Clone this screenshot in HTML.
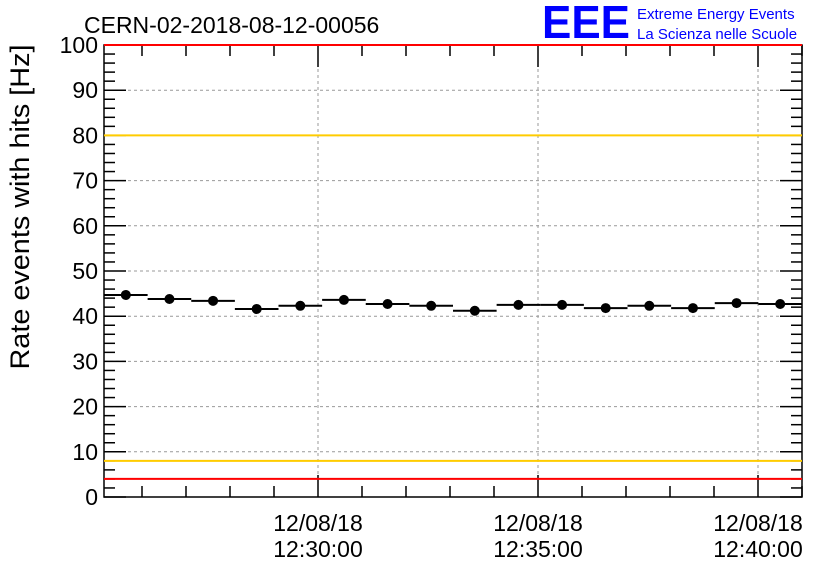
<!DOCTYPE html>
<html><head><meta charset="utf-8"><style>
body{margin:0;background:#fff;}
svg{display:block;font-family:"Liberation Sans",sans-serif;}
</style></head><body>
<svg id="c" width="836" height="572">
<rect x="0" y="0" width="836" height="572" fill="#fff"/>
<text x="84" y="33" font-size="23" fill="#000">CERN-02-2018-08-12-00056</text>
<text x="542" y="38" font-size="46" font-weight="bold" fill="#00f" textLength="88" lengthAdjust="spacingAndGlyphs">EEE</text>
<text x="637" y="19" font-size="15" fill="#00f">Extreme Energy Events</text>
<text x="637" y="39" font-size="15" fill="#00f">La Scienza nelle Scuole</text>
<text transform="translate(29,207) rotate(-90)" text-anchor="middle" font-size="27" fill="#000" textLength="325" lengthAdjust="spacingAndGlyphs">Rate events with hits [Hz]</text>
<g id="grid"></g><g id="axes"></g><g id="marks"></g>
</svg>
<script>
const values=[44.7,43.8,43.4,41.6,42.3,43.6,42.7,42.3,41.2,42.5,42.5,41.8,42.3,41.8,42.9,42.7];
const yTicks=[0,10,20,30,40,50,60,70,80,90,100];
const xTickMinutes=[5,10,15];
const xTickDates=["12/08/18","12/08/18","12/08/18"];
const xTickTimes=["12:30:00","12:35:00","12:40:00"];
const refLines=[{v:80,c:"#ffcc00"},{v:8,c:"#ffcc00"},{v:4,c:"#ff0000"},{v:100,c:"#ff0000"}];
const X0=104,X1=802,Y0=497,Y1=45,NS="http://www.w3.org/2000/svg";
const tStart=5-214/44, tEnd=tStart+(X1-X0)/44;
const xs=m=>X0+(m-tStart)/(tEnd-tStart)*(X1-X0);
const ys=v=>Y0-(v/100)*(Y0-Y1);
function mk(t,a,p){const e=document.createElementNS(NS,t);for(const k in a)e.setAttribute(k,a[k]);p.appendChild(e);return e;}
const G=document.getElementById('grid'),A=document.getElementById('axes'),M=document.getElementById('marks');
yTicks.forEach(v=>{
 if(v>0&&v<100){const l=mk('line',{x1:X0,x2:X1,y1:ys(v),y2:ys(v),stroke:'#999','stroke-dasharray':'3,3'},G);
 
 }
 const t=mk('text',{x:X0-6,y:ys(v)+8,'text-anchor':'end','font-size':23},A);t.textContent=v;
 
 
 mk('line',{x1:X0,x2:X0+22,y1:ys(v),y2:ys(v),stroke:'#000','stroke-width':1.5},A);
 mk('line',{x1:X1,x2:X1-22,y1:ys(v),y2:ys(v),stroke:'#000','stroke-width':1.5},A);
 if(v<100)for(let k=1;k<5;k++){const yy=ys(v+k*2);mk('line',{x1:X0,x2:X0+11,y1:yy,y2:yy,stroke:'#000','stroke-width':1.5},A);mk('line',{x1:X1,x2:X1-11,y1:yy,y2:yy,stroke:'#000','stroke-width':1.5},A);}
});
for(let m=Math.ceil(tStart);m<=tEnd;m++){const x=xs(m),maj=xTickMinutes.includes(m);
 mk('line',{x1:x,x2:x,y1:Y0,y2:Y0-(maj?22:11),stroke:'#000','stroke-width':1.5},A);
 mk('line',{x1:x,x2:x,y1:Y1,y2:Y1+(maj?22:11),stroke:'#000','stroke-width':1.5},A);}
xTickMinutes.forEach((m,i)=>{const x=xs(m);
 const l=mk('line',{x1:x,x2:x,y1:Y1,y2:Y0,stroke:'#999','stroke-dasharray':'3,3'},G);
 
 
 const t1=mk('text',{x:x,y:531,'text-anchor':'middle','font-size':23},A);t1.textContent=xTickDates[i];
 
 
 const t2=mk('text',{x:x,y:557,'text-anchor':'middle','font-size':23},A);t2.textContent=xTickTimes[i];
 
 });
refLines.forEach(r=>{const l=mk('line',{x1:X0,x2:X1,y1:ys(r.v),y2:ys(r.v),stroke:r.c,'stroke-width':2},M);
 
 });
mk('rect',{x:X0,y:Y1,width:X1-X0,height:Y0-Y1,fill:'none',stroke:'#000','stroke-width':1.5},A);
const bw=(X1-X0)/values.length;
values.forEach((v,i)=>{const xa=X0+i*bw,y=ys(v);
 const l=mk('line',{x1:xa,x2:xa+bw,y1:y,y2:y,stroke:'#000','stroke-width':2},M);
 
 
 const c=mk('circle',{cx:xa+bw/2,cy:y,r:5,fill:'#000'},M);
 
 });
</script>
</body></html>
